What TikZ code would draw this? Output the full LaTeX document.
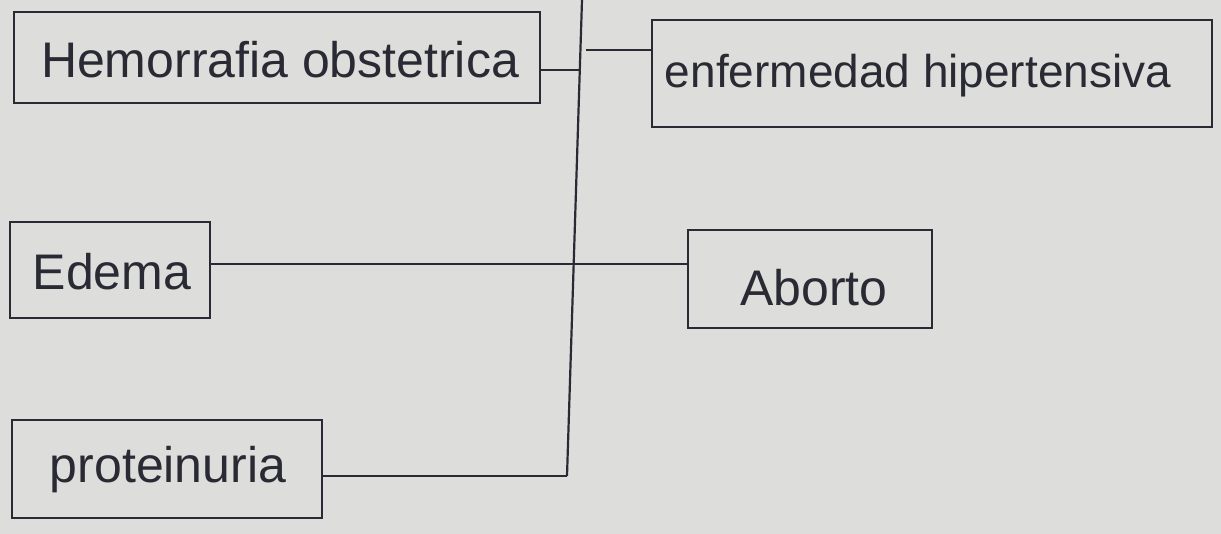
\documentclass[tikz,border=0pt]{standalone}
\usepackage{fontspec}
\setmainfont{Liberation Sans}
\definecolor{paper}{RGB}{221,221,219}
\definecolor{ink}{RGB}{42,42,52}
\begin{document}
\begin{tikzpicture}[x=0.5pt,y=-0.5pt,
  box/.style={draw=ink,line width=1.1pt,minimum width=#1,inner sep=0pt},
  lbl/.style={text=ink,font=\fontsize{25}{27}\selectfont,inner sep=0pt},
  conn/.style={draw=ink,line width=1.1pt}]
\fill[paper] (0,0) rectangle (1221,534);
\useasboundingbox (0,0) rectangle (1221,534);
% boxes
\node[box=263pt,minimum height=45.5pt] (b1) at (277,57.5) {};
\node[box=280pt,minimum height=53.5pt] (b2) at (932,73.5) {};
\node[box=100pt,minimum height=48pt] (b3) at (110,270) {};
\node[box=122pt,minimum height=49pt] (b4) at (810,279) {};
\node[box=155pt,minimum height=49pt] (b5) at (167,469) {};
% labels
\node[lbl] (t1) at (280,60) {Hemorrafia obstetrica};
\node[lbl,font=\fontsize{23}{25}\selectfont] (t2) at (918,76) {enfermedad hipertensiva};
\node[lbl] (t3) at (112,272) {Edema};
\node[lbl] (t4) at (814,288) {Aborto};
\node[lbl] (t5) at (168,470) {proteinuria};
% trunk
\coordinate (top) at (582,0);
\coordinate (bot) at (567,476);
\coordinate (j1) at (581,70);
\coordinate (j2) at (586,50);
\coordinate (j3) at (574,264);
\draw[conn] (top) -- (bot);
\draw[conn] (b1.east |- j1) -- (j1);
\draw[conn] (j2) -- (b2.west |- j2);
\draw[conn] (b3.east |- j3) -- (b4.west |- j3);
\draw[conn] (b5.east |- bot) -- (bot);
\end{tikzpicture}
\end{document}
